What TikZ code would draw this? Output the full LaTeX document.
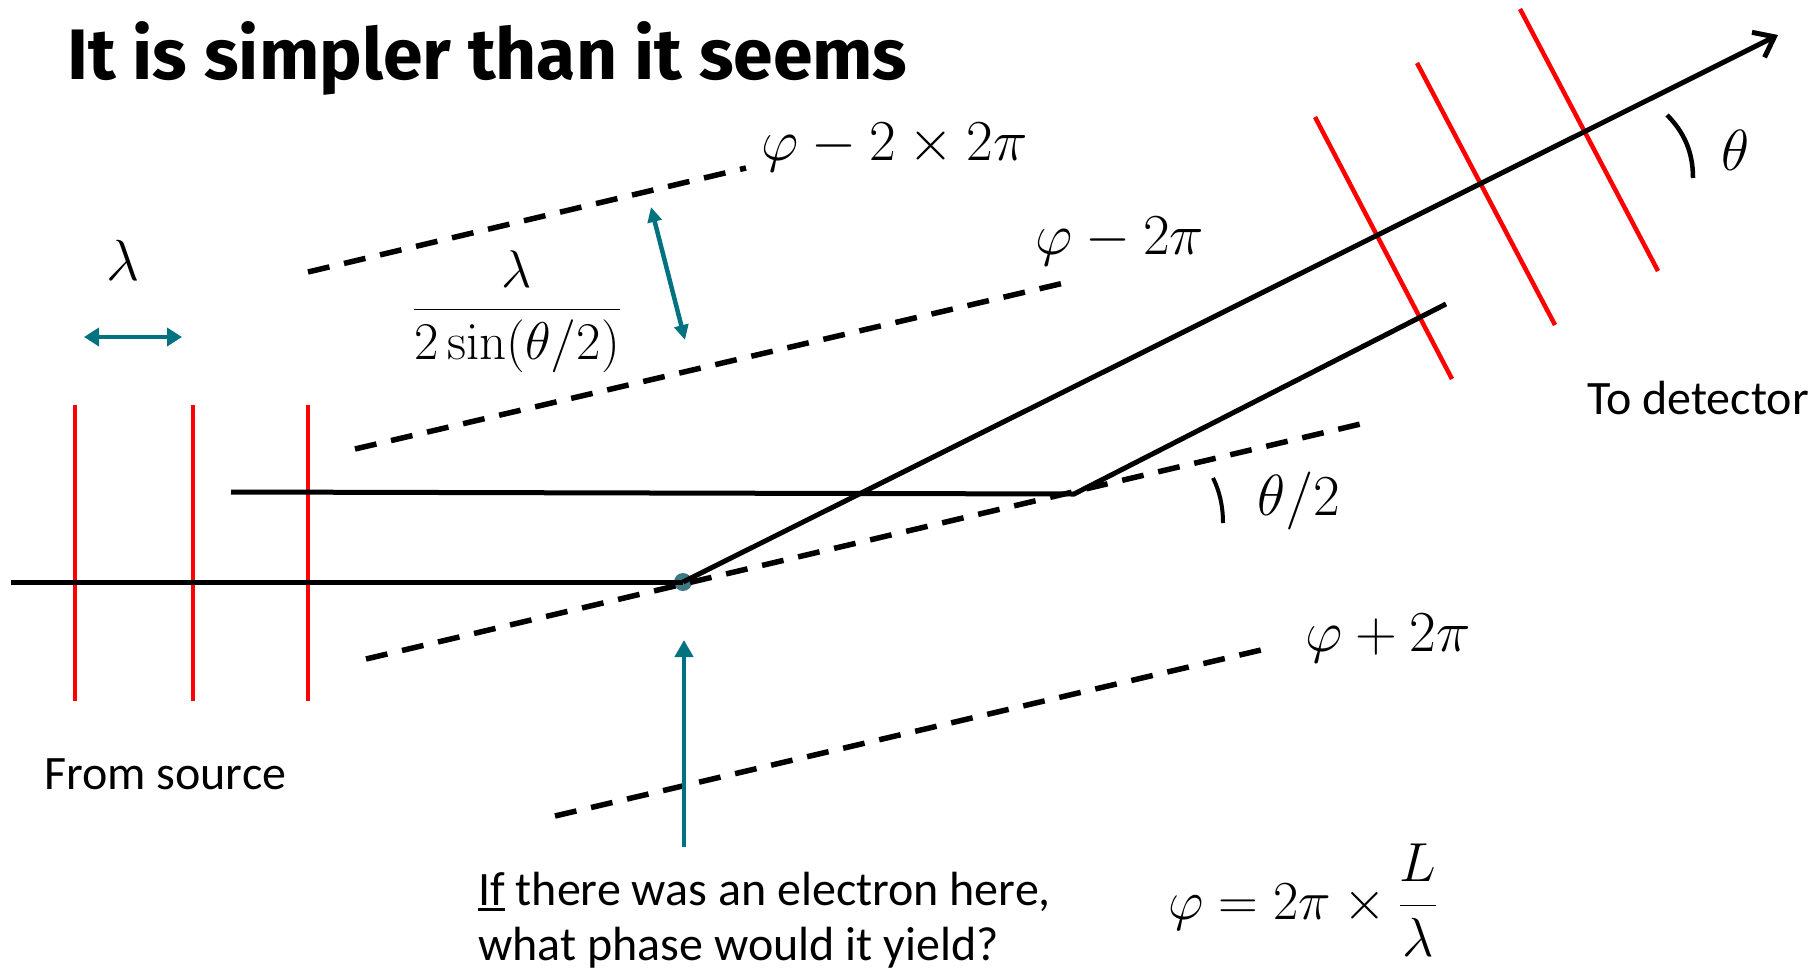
\RequirePackage{fix-cm}
\documentclass[tikz,border=0pt]{standalone}
\usepackage{amsmath}
\usepackage[no-math]{fontspec}
\setmainfont{Carlito}
\newfontfamily\titlefont{Fira Sans}
\usetikzlibrary{arrows.meta}
\definecolor{tealc}{RGB}{0,114,128}
\definecolor{dotc}{RGB}{62,122,134}
\definecolor{redc}{RGB}{255,0,0}
\newcommand{\ulIf}{{\setbox0\hbox{If}\rlap{\rule[-6pt]{\wd0}{3.5pt}}If}}
\begin{document}
\begin{tikzpicture}[x=1pt,y=-1pt,
  solidln/.style={line width=5pt},
  dashln/.style={line width=5.5pt, dash pattern=on 22pt off 15pt},
  wave/.style={redc, line width=4.5pt},
  tealarrow/.style={tealc, line width=4.5pt},
  mathlbl/.style={inner sep=0pt, font=\fontsize{58}{70}\selectfont},
  bodytxt/.style={inner sep=0pt, font=\fontsize{48}{57}\selectfont}
]
\useasboundingbox (0,0) rectangle (1814,969);

% title
\node[anchor=base west, inner sep=0pt, font=\titlefont\bfseries\fontsize{71.5}{78}\selectfont] (title) at (67,79) {It is simpler than it seems};

% wavefronts from source
\draw[wave] (75,405) -- (75,701);
\draw[wave] (193,405) -- (193,701);
\draw[wave] (308,405) -- (308,701);

% wavefronts to detector
\draw[wave] (1315,117) -- (1452,379);
\draw[wave] (1417,63) -- (1555,325);
\draw[wave] (1520,9) -- (1658,271);

% scattering point
\node[circle, fill=dotc, minimum size=18pt, inner sep=0pt] (dot) at (683,582) {};

% coordinates
\coordinate (src) at (11,582);
\coordinate (tip) at (1778,35);
\coordinate (u0) at (231,492);
\coordinate (K) at (1074,494);
\coordinate (uend) at (1446,304);

% beams
\draw[solidln] (src) -- (dot.center);
\draw[solidln, -{Straight Barb[length=18pt,width=28pt]}] (dot.center) -- (tip);
\draw[solidln, line join=miter] (u0) -- (K) -- (uend);

% dashed planes
\coordinate (d1a) at (308,272); \coordinate (d1b) at (746,168);
\coordinate (d2a) at (355,449); \coordinate (d2b) at (1064,283);
\coordinate (d3a) at (366,659); \coordinate (d3b) at (1369,422);
\coordinate (d4a) at (555,816); \coordinate (d4b) at (1261,650);
\draw[dashln] (d1a) -- (d1b);
\draw[dashln] (d2a) -- (d2b);
\draw[dashln] (d3a) -- (d3b);
\draw[dashln] (d4a) -- (d4b);

% teal arrows
\coordinate (la) at (84,337); \coordinate (lb) at (182,337);
\draw[tealarrow, {Triangle[length=15pt,width=18pt]}-{Triangle[length=15pt,width=18pt]}] (la) -- (lb);
\coordinate (pa) at (651,207); \coordinate (pb) at (685,340);
\draw[tealarrow, {Triangle[length=15pt,width=14pt]}-{Triangle[length=15pt,width=14pt]}] (pa) -- (pb);
\coordinate (va) at (684,847); \coordinate (vb) at (684,640);
\draw[tealarrow, -{Triangle[length=17pt,width=18pt]}] (va) -- (vb);

% angle arcs
\draw[line width=4.5pt] (1667,115) .. controls (1684,132) and (1693,152) .. (1693,178);
\draw[line width=4pt] (1213,478) .. controls (1219,490) and (1223,505) .. (1223,523);

% math labels
\node[mathlbl, anchor=base west] (m1) at (761,160) {$\varphi - 2\times 2\pi$};
\node[mathlbl, anchor=base west] (m2) at (1035,254) {$\varphi - 2\pi$};
\node[mathlbl, anchor=base west] (m3) at (1305,651) {$\varphi + 2\pi$};
\node[mathlbl, anchor=base west] (th) at (1721,170) {$\theta$};
\node[mathlbl, anchor=base west] (th2) at (1257,515) {$\theta/2$};
\node[mathlbl, anchor=base west] (lam) at (106,280) {$\lambda$};
\node[inner sep=0pt, anchor=base, font=\fontsize{53}{64}\selectfont] (frac) at (517,323) {$\dfrac{\lambda}{2\sin(\theta/2)}$};
\node[inner sep=0pt, anchor=base west, font=\fontsize{55}{66}\selectfont] (phi) at (1168,919) {$\varphi = 2\pi\times\dfrac{L}{\lambda}$};

% text labels
\node[bodytxt, anchor=base west] (fromsrc) at (44,789) {From source};
\node[bodytxt, anchor=base west] (todet) at (1587,414) {To detector};
\node[bodytxt, anchor=base west] (q1) at (478,905) {\ulIf{} there was an electron here,};
\node[bodytxt, anchor=base west] (q2) at (478,960) {what phase would it yield?};
\end{tikzpicture}
\end{document}
